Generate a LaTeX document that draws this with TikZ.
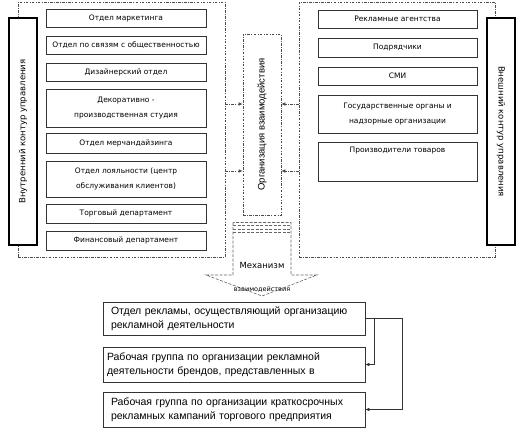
\documentclass[tikz,border=0pt]{standalone}
\usepackage{fontspec}
\setmainfont{DejaVu Sans}
\newfontfamily\arialf{Liberation Sans}
\usetikzlibrary{arrows.meta}
\begin{document}
\begin{tikzpicture}[x=1pt,y=-1pt,
  dd/.style={draw=black!70, line width=0.6pt, dash pattern=on 2.5pt off 1.5pt on 0.6pt off 1.5pt},
  framebox/.style={dd, inner sep=0pt},
  dept/.style={draw=black!80, line width=0.6pt, fill=white, inner sep=0pt, align=center,
    font=\fontsize{7.5}{15}\selectfont},
  ldept/.style={dept, minimum width=160pt},
  rdept/.style={dept, minimum width=159pt},
  side/.style={draw=black, line width=1.2pt, fill=white, minimum width=28pt, minimum height=227pt, inner sep=0pt,
    font=\fontsize{8.5}{10}\selectfont},
  orgbox/.style={dd, minimum width=38pt, minimum height=181pt, inner sep=0pt,
    font=\arialf\fontsize{9.5}{11}\selectfont},
  conn/.style={dd, -{Latex[length=4pt,width=3.5pt]}},
  mech/.style={draw=black!60, line width=0.6pt, dash pattern=on 3pt off 1.5pt},
  bbox/.style={draw=black!80, line width=0.6pt, minimum width=262pt, text width=246pt, inner xsep=8pt, inner ysep=0pt,
    align=left, font=\arialf\fontsize{10.5}{14}\selectfont},
  link/.style={draw=black!80, line width=0.6pt, -{Latex[length=4pt,width=3.5pt]}}
]
\useasboundingbox (0,0) rectangle (525,432);

% frames
\node[framebox, minimum width=207pt, minimum height=255pt] (lframe) at (121.5,129.5) {};
\node[framebox, minimum width=196pt, minimum height=255pt] (rframe) at (397,129.5) {};

% side boxes
\node[side] (inner) at (23,131.5) {};
\node[rotate=90, font=\fontsize{8.5}{10}\selectfont] (innert) at (inner.center) {Внутренний контур управления};
\node[side] (outer) at (501,131.5) {};
\node[rotate=-90, font=\fontsize{8.5}{10}\selectfont] (outert) at (outer.center) {Внешний контур управления};

% left departments
\node[ldept, minimum height=18pt] (l1) at (126,18) {Отдел маркетинга};
\node[ldept, minimum height=18pt] (l2) at (126,45) {Отдел по связям с общественностью};
\node[ldept, minimum height=18pt] (l3) at (126,72) {Дизайнерский отдел};
\node[ldept, minimum height=38pt] (l4) at (126,108) {Декоративно -\\производственная студия};
\node[ldept, minimum height=20pt] (l5) at (126,143) {Отдел мерчандайзинга};
\node[ldept, minimum height=36pt] (l6) at (126,179) {Отдел лояльности (центр\\обслуживания клиентов)};
\node[ldept, minimum height=19pt] (l7) at (126,213.5) {Торговый департамент};
\node[ldept, minimum height=19pt] (l8) at (126,240.5) {Финансовый департамент};

% right departments
\node[rdept, minimum height=18pt] (r1) at (397.5,19) {Рекламные агентства};
\node[rdept, minimum height=19pt] (r2) at (397.5,47.5) {Подрядчики};
\node[rdept, minimum height=18pt] (r3) at (397.5,76) {СМИ};
\node[rdept, minimum height=38pt] (r4) at (397.5,114) {Государственные органы и\\надзорные организации};
\node[rdept, minimum height=39pt, text height=6pt, text depth=25pt] (r5) at (397.5,161.5) {Производители товаров};

% organisation box
\node[orgbox] (org) at (262,124.5) {};
\node[rotate=90, font=\arialf\fontsize{9.5}{11}\selectfont] (orgt) at (org.center) {Организация взаимодействия};

% arrows frames -> org
\coordinate (ya) at (0,104);
\coordinate (yb) at (0,171);
\draw[conn] (lframe.east |- ya) -- (org.west |- ya);
\draw[conn] (lframe.east |- yb) -- (org.west |- yb);
\draw[conn] (rframe.west |- ya) -- (org.east |- ya);
\draw[conn] (rframe.west |- yb) -- (org.east |- yb);

% mechanism arrow
\draw[mech] (233,222.5) -- (233,275) -- (206,275) -- (262,296) -- (317,275) -- (291,275) -- (291,222.5) -- cycle;
\draw[mech] (233,225.5) -- (291,225.5);
\draw[mech] (233,229.5) -- (291,229.5);
\draw[mech] (233,232.5) -- (291,232.5);
\node[font=\fontsize{8.5}{10}\selectfont] (mecht) at (262,265) {Механизм};
\node[font=\fontsize{6.5}{8}\selectfont] (mecht2) at (262,289) {взаимодействия};

% bottom boxes
\node[bbox, minimum height=33pt] (b1) at (234,318.5) {Отдел рекламы, осуществляющий организацию\\рекламной деятельности};
\node[bbox, minimum height=35pt, inner xsep=4pt, text width=254pt] (b2) at (234,364.5) {Рабочая группа по организации рекламной\\деятельности брендов, представленных в};
\node[bbox, minimum height=35pt] (b3) at (234,409.5) {Рабочая группа по организации краткосрочных\\рекламных кампаний торгового предприятия};

\draw[link] (b1.east) -- ++(37,0) |- (b3.east);
\draw[link] (b1.east) -- ++(9,0) |- (b2.east);
\end{tikzpicture}
\end{document}
